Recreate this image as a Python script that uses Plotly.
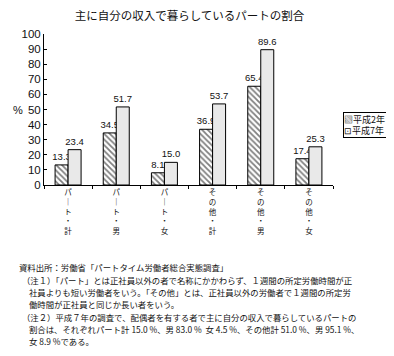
import plotly.graph_objects as go

categories = ["パ<br>｜<br>ト<br>・<br>計", "パ<br>｜<br>ト<br>・<br>男", "パ<br>｜<br>ト<br>・<br>女",
              "そ<br>の<br>他<br>・<br>計", "そ<br>の<br>他<br>・<br>男", "そ<br>の<br>他<br>・<br>女"]
series_names = ["平成2年", "平成7年"]
legend_symbols = ["▧", "⊡"]
h2_values = [13.3, 34.5, 8.1, 36.9, 65.4, 17.4]
h7_values = [23.4, 51.7, 15.0, 53.7, 89.6, 25.3]
y_ticks = [0, 10, 20, 30, 40, 50, 60, 70, 80, 90, 100]
grid_ticks = [10, 20, 30, 40, 50, 60, 70, 80, 90]

title_text = "主に自分の収入で暮らしているパートの割合"
notes = [
    "資料出所：労働省「パートタイム労働者総合実態調査」",
    "（注１）「パート」とは正社員以外の者で名称にかかわらず、１週間の所定労働時間が正",
    "社員よりも短い労働者をいう。「その他」とは、正社員以外の労働者で１週間の所定労",
    "働時間が正社員と同じか長い者をいう。",
    "（注２）平成７年の調査で、配偶者を有する者で主に自分の収入で暮らしているパートの",
    "割合は、それぞれパート計 15.0 %、男 83.0 %  女 4.5 %、その他計 51.0 %、男 95.1 %、",
    "女 8.9 %である。",
]

# page body has an 8px default margin -> figure drawn from (8, 8) in the window
OFF = 8
WIN_W, WIN_H = 394, 356
W, H = WIN_W - OFF, WIN_H - OFF
# plot area in window pixels: x 44..333, y 34..185
L, R, T, B = 44 - OFF, WIN_W - 333, 34 - OFF, WIN_H - 185
PH = H - T - B
PW = W - L - R

def px(x):
    return (x - OFF - L) / PW

def py(y):
    return (H - B - (y - OFF)) / PH

JP = "Noto Sans CJK JP"
NUM = "Liberation Sans, Arial, sans-serif"

fig = go.Figure()
fig.add_trace(go.Bar(
    x=categories, y=h2_values, name=series_names[0], showlegend=False,
    marker=dict(color="white", line=dict(color="black", width=1),
                pattern=dict(shape="\\", fgcolor="black", bgcolor="white", size=4, solidity=0.45)),
    text=[f"{v:.1f}" for v in h2_values], textposition="outside", constraintext="none",
    textfont=dict(family=NUM, size=9.5, color="#111"), cliponaxis=False,
))
fig.add_trace(go.Bar(
    x=categories, y=h7_values, name=series_names[1], showlegend=False,
    marker=dict(color="white", line=dict(color="black", width=1),
                pattern=dict(shape=".", fgcolor="#999", bgcolor="white", size=2, solidity=0.5)),
    text=[f"{v:.1f}" for v in h7_values], textposition="outside", constraintext="none",
    textfont=dict(family=NUM, size=9.5, color="#111"), cliponaxis=False,
))

annotations = [
    dict(text="%", x=px(11), y=py(110), xref="paper", yref="paper", showarrow=False,
         font=dict(family=NUM, size=11, color="#111")),
    dict(text="<br>".join(s + n for s, n in zip(legend_symbols, series_names)),
         x=px(343), y=py(112), xref="paper", yref="paper", xanchor="left", yanchor="top",
         width=46, height=24, align="left", valign="middle", showarrow=False,
         bordercolor="black", borderwidth=1, borderpad=0,
         bgcolor="white", font=dict(family=JP, size=9, color="#111")),
]
note_pos = [(17, 267), (20, 280), (27, 292), (27, 304), (20, 317), (27, 329), (27, 341)]
for t, (x, y) in zip(notes, note_pos):
    annotations.append(dict(text=t, x=px(x), y=py(y), xref="paper", yref="paper",
                            xanchor="left", yanchor="middle", showarrow=False,
                            font=dict(family=JP, size=8.4, color="#111")))

fig.update_layout(
    width=W, height=H, margin=dict(l=L, r=R, t=T, b=B, autoexpand=False),
    paper_bgcolor="white", plot_bgcolor="white",
    barmode="group", bargap=0.46, bargroupgap=0,
    title=dict(text=title_text, x=(189.5 - OFF) / W, xanchor="center", y=1 - (16 - OFF) / H,
               yanchor="middle", font=dict(family=JP, size=11.5, color="#111")),
    showlegend=False,
    annotations=annotations,
    font=dict(family=JP, color="#111"),
    yaxis=dict(range=[0, 100], tickvals=y_ticks, showgrid=False,
               showline=True, linecolor="black", linewidth=1, zeroline=False,
               ticks="inside", ticklen=3, tickcolor="black",
               tickfont=dict(family=NUM, size=11.5, color="#111")),
    yaxis2=dict(range=[0, 100], overlaying="y", side="left", tickvals=grid_ticks,
                showgrid=True, gridcolor="#333", gridwidth=1, showticklabels=False,
                zeroline=False, showline=False, ticks=""),
    xaxis=dict(showline=True, linecolor="black", linewidth=1, ticks="outside", tickson="boundaries",
               ticklen=3, tickcolor="black", tickangle=0,
               tickfont=dict(family=JP, size=7.5, color="#111")),
)

fig.write_html("out.html")
